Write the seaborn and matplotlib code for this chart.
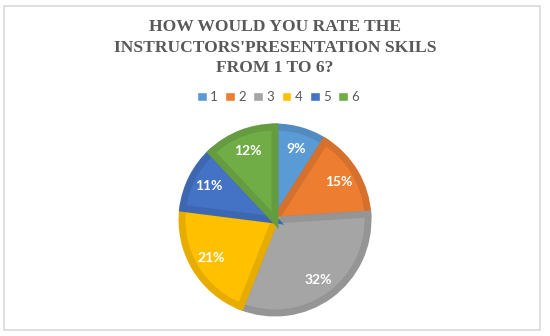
import numpy as np
import seaborn as sns
import matplotlib.pyplot as plt
from matplotlib.patches import Rectangle, Patch
from matplotlib.colors import to_rgb

ratings = ["1", "2", "3", "4", "5", "6"]
shares = [9, 15, 32, 21, 11, 12]
colors = ["#5B9BD5", "#ED7D31", "#A5A5A5", "#FFC000", "#4472C4", "#70AD47"]
title_lines = ["HOW WOULD YOU RATE THE", "INSTRUCTORS'PRESENTATION SKILS", "FROM 1 TO 6?"]

sns.set_theme(style="white")
plt.rcParams["font.family"] = ["Lato", "DejaVu Sans"]

W, H = 550, 336
fig = plt.figure(figsize=(W / 100, H / 100), dpi=100)

# light frame around the whole chart
fig.patches.append(Rectangle((4 / W, 6 / H), 536 / W, 324 / H, transform=fig.transFigure,
                             fill=False, edgecolor="#d9d9d9", linewidth=1.2))

cx, cy, r = 275, 220, 93
ax = fig.add_axes([(cx - r) / W, (H - cy - r) / H, 2 * r / W, 2 * r / H])
pal = sns.color_palette(colors)
wedges, texts, autotexts = ax.pie(shares, colors=pal, startangle=90, counterclock=False,
                                  autopct="%d%%", pctdistance=0.8,
                                  wedgeprops=dict(linewidth=0),
                                  textprops=dict(color="white", fontweight="bold", fontsize=10))
# darker inner bevel on each slice
for w, c in zip(wedges, pal):
    dark = tuple(v * 0.9 for v in to_rgb(c))
    w.set_edgecolor(dark)
    w.set_linewidth(5)
    w.set_clip_path(w)
ax.set_xlim(-1, 1)
ax.set_ylim(-1, 1)
ax.axis("off")

# title, one line at a time
for line, y in zip(title_lines, [27, 47.5, 68]):
    fig.text(0.5, 1 - y / H, line, ha="center", va="center", family="Liberation Serif",
             fontweight="bold", fontsize=12.6, color="#595959")

handles = [Patch(facecolor=c, label=lab) for c, lab in zip(pal, ratings)]
fig.legend(handles=handles, loc="center", bbox_to_anchor=(278 / W, 1 - 97 / H), ncol=6,
           frameon=False, fontsize=9.5, handlelength=0.75, handleheight=0.75, handletextpad=0.25,
           columnspacing=0.55, labelcolor="#595959")

fig.savefig("out.png", dpi=100, facecolor="white")
